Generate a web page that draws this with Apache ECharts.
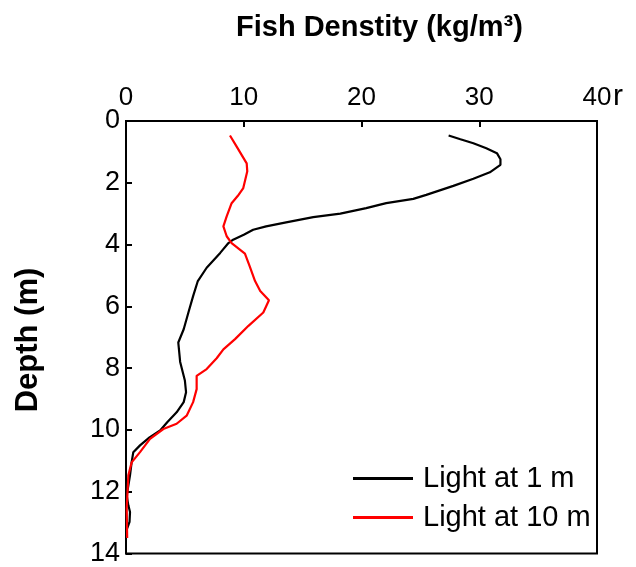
<!DOCTYPE html>
<html>
<head>
<meta charset="utf-8">
<script src="https://cdn.jsdelivr.net/npm/echarts@6/dist/echarts.min.js"></script>
<style>
  html, body { margin: 0; padding: 0; background: #fff; }
  #chart { width: 636px; height: 567px; }
</style>
</head>
<body>
<div id="chart"></div>
<script>
// fish density (kg/m3) against depth (m)
const light1Density = [27.4, 28.4, 29.5, 30.6, 31.5, 31.8, 31.8, 30.9, 29.5, 27.8, 25.5, 24.4, 22.1, 20.4, 18.2, 15.9, 13.6, 11.9, 10.8, 10.0, 9.1, 8.7, 8.0, 6.85, 6.1, 5.7, 5.3, 4.9, 4.44, 4.6, 5.0, 5.1, 4.9, 4.3, 3.5, 2.9, 2.0, 1.19, 0.62, 0.48, 0.34, 0.2, 0.06, 0.2, 0.34, 0.3, 0.1]
const light1Depth = [0.47, 0.59, 0.72, 0.88, 1.04, 1.24, 1.42, 1.66, 1.87, 2.10, 2.39, 2.52, 2.66, 2.82, 3.0, 3.11, 3.28, 3.41, 3.52, 3.68, 3.84, 3.95, 4.27, 4.75, 5.18, 5.67, 6.2, 6.74, 7.17, 7.8, 8.4, 8.78, 9.1, 9.43, 9.75, 10.02, 10.24, 10.5, 10.72, 11.04, 11.47, 11.8, 12.12, 12.44, 12.66, 12.98, 13.19]
const light10Density = [8.83, 9.4, 10.25, 10.3, 9.96, 9.5, 8.97, 8.55, 8.27, 8.55, 8.97, 10.1, 10.5, 10.96, 11.4, 12.14, 11.66, 10.4, 9.26, 8.27, 7.7, 6.85, 6.0, 6.0, 5.7, 5.15, 4.3, 3.17, 2.04, 1.19, 0.48, 0.2, 0.06, 0.1]
const light10Depth = [0.47, 0.83, 1.37, 1.63, 2.17, 2.42, 2.66, 3.09, 3.41, 3.73, 3.95, 4.29, 4.7, 5.18, 5.5, 5.8, 6.2, 6.63, 7.06, 7.39, 7.68, 8.03, 8.25, 8.68, 9.1, 9.54, 9.8, 9.97, 10.29, 10.72, 11.05, 11.47, 12.55, 13.5]
const seriesNames = ['Light at 1 m', 'Light at 10 m']
const seriesColors = ['#000000', '#ff0000']

const pairs = (xs, ys) => xs.map((v, i) => [v, ys[i]])

const chart = echarts.init(document.getElementById('chart'))
const font = 'Liberation Sans, Arial, sans-serif'

const option = {
  animation: false,
  backgroundColor: '#fff',
  title: {
    text: 'Fish Denstity (kg/m³)',
    left: 231,
    top: 8,
    textStyle: { fontFamily: font, fontWeight: 'bold', fontSize: 29, color: '#000' }
  },
  graphic: [
    {
      type: 'text',
      x: 28,
      y: 340,
      rotation: Math.PI / 2,
      style: {
        text: 'Depth (m)',
        font: 'bold 31px ' + font,
        fill: '#000',
        align: 'center',
        verticalAlign: 'middle'
      }
    },
    {
      type: 'text',
      left: 613,
      top: 82,
      style: { text: 'r', font: '30px ' + font, fill: '#000' }
    }
  ],
  legend: {
    orient: 'vertical',
    left: 353,
    top: 464,
    padding: 0,
    itemWidth: 60,
    itemHeight: 3,
    itemGap: 10,
    icon: 'rect',
    data: seriesNames,
    textStyle: { fontFamily: font, fontSize: 29, color: '#000', padding: [0, 0, 0, 5] }
  },
  grid: {
    left: 126, top: 121, width: 471, height: 434,
    show: true, borderColor: '#000', borderWidth: 2
  },
  xAxis: {
    type: 'value',
    position: 'top',
    min: 0, max: 40, interval: 10,
    axisLine: { show: true, lineStyle: { color: '#000', width: 2 } },
    axisTick: { show: true, inside: true, length: 6, lineStyle: { color: '#000', width: 2 } },
    axisLabel: { fontFamily: font, fontSize: 26, color: '#000', margin: 10 },
    splitLine: { show: false }
  },
  yAxis: {
    type: 'value',
    inverse: true,
    min: 0, max: 14, interval: 2,
    axisLine: { show: true, lineStyle: { color: '#000', width: 2 } },
    axisTick: { show: true, inside: true, length: 6, lineStyle: { color: '#000', width: 2 } },
    axisLabel: { fontFamily: font, fontSize: 27, color: '#000', margin: 6 },
    splitLine: { show: false }
  },
  series: [
    {
      name: seriesNames[0],
      type: 'line',
      data: pairs(light1Density, light1Depth),
      showSymbol: false,
      color: seriesColors[0],
      lineStyle: { width: 2.2, color: seriesColors[0] }
    },
    {
      name: seriesNames[1],
      type: 'line',
      data: pairs(light10Density, light10Depth),
      showSymbol: false,
      color: seriesColors[1],
      lineStyle: { width: 2.2, color: seriesColors[1] }
    }
  ]
}

chart.setOption(option)
</script>
</body>
</html>
